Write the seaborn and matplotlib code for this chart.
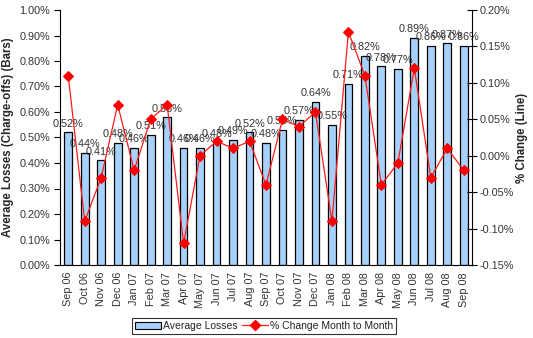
import matplotlib
matplotlib.use("Agg")
import matplotlib.pyplot as plt
import seaborn as sns
import numpy as np
import pandas as pd
from matplotlib.ticker import FuncFormatter, MultipleLocator
from matplotlib.patches import Patch
from matplotlib.lines import Line2D

months = ["Sep 06", "Oct 06", "Nov 06", "Dec 06", "Jan 07", "Feb 07", "Mar 07", "Apr 07",
          "May 07", "Jun 07", "Jul 07", "Aug 07", "Sep 07", "Oct 07", "Nov 07", "Dec 07",
          "Jan 08", "Feb 08", "Mar 08", "Apr 08", "May 08", "Jun 08", "Jul 08", "Aug 08", "Sep 08"]
avg_losses = [0.52, 0.44, 0.41, 0.48, 0.46, 0.51, 0.58, 0.46, 0.46, 0.48, 0.49, 0.52, 0.48,
              0.53, 0.57, 0.64, 0.55, 0.71, 0.82, 0.78, 0.77, 0.89, 0.86, 0.87, 0.86]
pct_change = [0.11, -0.09, -0.03, 0.07, -0.02, 0.05, 0.07, -0.12, 0.00, 0.02, 0.01, 0.02, -0.04,
              0.05, 0.04, 0.06, -0.09, 0.17, 0.11, -0.04, -0.01, 0.12, -0.03, 0.01, -0.02]

sns.set_style("white")
plt.rcParams['font.family'] = ['Liberation Sans', 'DejaVu Sans']

df = pd.DataFrame({"month": months, "loss": avg_losses, "chg": pct_change})

fig = plt.figure(figsize=(5.33, 3.38), dpi=100)
ax = fig.add_axes([60/533, 1 - 265/338, (472-60)/533, (265-10)/338])

fs = 7.8
bar_color = "#A6D1FA"
sns.barplot(data=df, x="month", y="loss", color=bar_color, edgecolor="black",
            linewidth=0.9, width=0.47, saturation=1, ax=ax)
ax.set_xlim(-0.5, len(months) - 0.5)
ax.set_ylim(0, 1.0)
ax.yaxis.set_major_locator(MultipleLocator(0.1))
ax.yaxis.set_major_formatter(FuncFormatter(lambda v, p: f"{v:.2f}%"))

for i, v in enumerate(avg_losses):
    ax.text(i, v + 0.014, f"{v:.2f}%", ha="center", va="bottom", fontsize=fs, color="#333333")

ax2 = ax.twinx()
sns.lineplot(data=df, x="month", y="chg", sort=False, color="#FF1A1A", linewidth=0.9,
             marker="D", markersize=5.5, markeredgecolor="#FF0000", markerfacecolor="#FF0000",
             ax=ax2)
ax2.set_ylim(-0.15, 0.20)
ax2.yaxis.set_major_locator(MultipleLocator(0.05))
ax2.yaxis.set_major_formatter(FuncFormatter(lambda v, p: f"{v:.2f}%"))

ax.set_xlabel("")
ax.set_ylabel("Average Losses (Charge-offs) (Bars)", fontsize=8.3, fontweight="bold", labelpad=4)
ax2.set_xlabel("")
ax2.set_ylabel("% Change (Line)", fontsize=8.3, fontweight="bold", labelpad=1)

for a in (ax, ax2):
    a.spines["top"].set_visible(False)
    a.tick_params(axis="y", length=4, width=0.8, labelsize=fs,
                  colors="black", labelcolor="#333333", pad=3)
ax.tick_params(axis="y", direction="out")
ax2.tick_params(axis="y", direction="inout", length=7, pad=2)
ax.spines["left"].set_color("black")
ax.spines["bottom"].set_color("black")
ax2.spines["right"].set_color("black")
ax.spines["right"].set_visible(False)
ax2.spines["left"].set_visible(False)
ax2.spines["bottom"].set_visible(False)
ax.tick_params(axis="y", left=True, right=False)
ax2.tick_params(axis="y", right=True, left=False)

# x ticks: labels at categories, tick marks between categories
ax.set_xticks(range(len(months)))
ax.set_xticklabels(months, rotation=90, fontsize=fs, color="#333333")
ax.tick_params(axis="x", length=0, pad=5)
ax.set_xticks(np.arange(-0.5, len(months), 1.0), minor=True)
ax.tick_params(axis="x", which="minor", direction="out", length=4, width=0.8, color="black")
ax2.tick_params(axis="x", bottom=False, top=False, labelbottom=False)

handles = [Patch(facecolor=bar_color, edgecolor="black", linewidth=0.8, label="Average Losses"),
           Line2D([0], [0], color="#FF1A1A", lw=0.9, marker="D", markersize=5.5,
                  markerfacecolor="#FF0000", markeredgecolor="#FF0000",
                  label="% Change Month to Month")]
leg = fig.legend(handles=handles, loc="center", bbox_to_anchor=(264/533, 1 - 326/338),
                 ncol=2, fontsize=7.5, frameon=True, fancybox=False, edgecolor="black",
                 handlelength=2.5, handletextpad=0.2, columnspacing=0.4,
                 borderpad=0.3, borderaxespad=0)
leg.get_frame().set_linewidth(0.8)
for t in leg.get_texts():
    t.set_color("#222222")

fig.savefig("out.png", dpi=100)
